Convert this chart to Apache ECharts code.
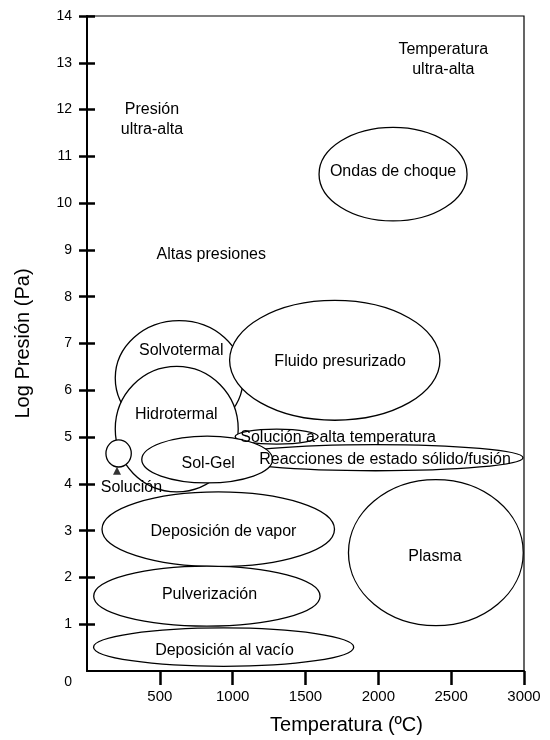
<!DOCTYPE html>
<html>
<head>
<meta charset="utf-8">
<script src="https://cdn.jsdelivr.net/npm/echarts@6/dist/echarts.min.js"></script>
<style>
  html, body { margin: 0; padding: 0; background: #fff; }
  #chart { width: 550px; height: 740px; }
</style>
</head>
<body>
<div id="chart"></div>
<script>
// regiones (elipses): centro y semiejes en unidades de los ejes
const regionNames = ['Solvotermal', 'Hidrotermal', 'Fluido presurizado', 'Solución', 'Solución a alta temperatura',
  'Reacciones de estado sólido/fusión', 'Sol-Gel', 'Deposición de vapor', 'Pulverización', 'Deposición al vacío',
  'Plasma', 'Ondas de choque'];
const centerTemp = [633, 616, 1701, 217, 1302, 1981, 825, 901, 823, 938, 2395, 2101];
const centerLogP = [6.26, 5.17, 6.64, 4.65, 5.01, 4.56, 4.52, 3.03, 1.60, 0.51, 2.53, 10.62];
const halfTemp = [439, 422, 722, 87, 285, 1012, 449, 798, 777, 893, 600, 508];
const halfLogP = [1.23, 1.34, 1.28, 0.29, 0.16, 0.28, 0.50, 0.80, 0.64, 0.41, 1.56, 1.0];

// textos del gráfico
const labelTexts = ['Solvotermal', 'Hidrotermal', 'Fluido presurizado', 'Solución a alta temperatura',
  'Reacciones de estado sólido/fusión', 'Sol-Gel', 'Deposición de vapor', 'Pulverización', 'Deposición al vacío',
  'Plasma', 'Ondas de choque', 'Presión\nultra-alta', 'Altas presiones', 'Temperatura\nultra-alta', 'Solución'];
const labelTemp = [647, 613, 1738, 1724, 2046, 832, 937, 841, 944, 2389, 2101, 446, 853, 2446, 305];
const labelLogP = [6.84, 5.47, 6.62, 4.98, 4.52, 4.43, 2.99, 1.64, 0.43, 2.45, 10.68, 11.79, 8.89, 13.06, 3.91];

// punto de la solución (flecha)
const solucionPoint = [206, 4.28];

const xTicks = [500, 1000, 1500, 2000, 2500, 3000];
const yTicks = [0, 1, 2, 3, 4, 5, 6, 7, 8, 9, 10, 11, 12, 13, 14];

const font = '"Liberation Sans", Arial, sans-serif';
const chart = echarts.init(document.getElementById('chart'));

const option = {
  animation: false,
  grid: {
    left: 87, right: 26, top: 16, bottom: 66,
    show: true, borderColor: '#000', borderWidth: 1.2
  },
  xAxis: {
    type: 'value', min: 0, max: 3000,
    name: 'Temperatura (ºC)', nameLocation: 'middle', nameGap: 44,
    nameTextStyle: { fontSize: 20, color: '#000', fontFamily: font, padding: [0, 0, 0, 82] },
    axisLine: { show: true, lineStyle: { color: '#000', width: 2 } },
    axisTick: { show: true, customValues: xTicks, length: 14, lineStyle: { color: '#000', width: 2.5 } },
    axisLabel: {
      customValues: xTicks, fontSize: 15, color: '#000', fontFamily: font, margin: 18,
      formatter: v => String(v)
    },
    splitLine: { show: false }
  },
  yAxis: [
    {
      type: 'value', min: 0, max: 14,
      name: 'Log Presión (Pa)', nameLocation: 'middle', nameGap: 54,
      nameTextStyle: { fontSize: 20, color: '#000', fontFamily: font },
      axisLine: { show: true, lineStyle: { color: '#000', width: 2 } },
      axisTick: { show: true, customValues: yTicks.slice(1), length: 8, lineStyle: { color: '#000', width: 2.5 } },
      axisLabel: {
        customValues: yTicks, fontSize: 14, color: '#000', fontFamily: font, margin: 15,
        formatter: v => v === 0 ? '{z|0}' : String(v),
        rich: { z: { padding: [22, 0, 0, 0], fontSize: 14, color: '#000', fontFamily: font } }
      },
      splitLine: { show: false }
    },
    {
      // marcas hacia dentro
      type: 'value', min: 0, max: 14, position: 'left',
      axisLine: { show: false },
      axisTick: { show: true, inside: true, customValues: yTicks.slice(1), length: 8, lineStyle: { color: '#000', width: 2.5 } },
      axisLabel: { show: false },
      splitLine: { show: false }
    }
  ],
  series: [
    {
      type: 'custom',
      data: regionNames.map((n, i) => [centerTemp[i], centerLogP[i], halfTemp[i], halfLogP[i]]),
      encode: { x: 0, y: 1 },
      renderItem(params, api) {
        const c = api.coord([api.value(0), api.value(1)]);
        const s = api.size([api.value(2), api.value(3)]);
        return {
          type: 'ellipse',
          shape: { cx: c[0], cy: c[1], rx: s[0], ry: s[1] },
          style: { fill: '#fff', stroke: '#000', lineWidth: 1.3 }
        };
      }
    },
    {
      type: 'scatter',
      symbol: 'triangle',
      symbolSize: 8,
      itemStyle: { color: '#000' },
      data: [solucionPoint],
      z: 4
    },
    {
      type: 'custom',
      z: 5,
      data: labelTexts.map((t, i) => [labelTemp[i], labelLogP[i]]),
      encode: { x: 0, y: 1 },
      renderItem(params, api) {
        const p = api.coord([api.value(0), api.value(1)]);
        return {
          type: 'text',
          x: p[0], y: p[1],
          style: {
            text: labelTexts[params.dataIndex],
            fill: '#000', fontSize: 16, fontFamily: font, lineHeight: 20,
            align: 'center', verticalAlign: 'middle'
          }
        };
      }
    }
  ]
};

chart.setOption(option);
</script>
</body>
</html>
